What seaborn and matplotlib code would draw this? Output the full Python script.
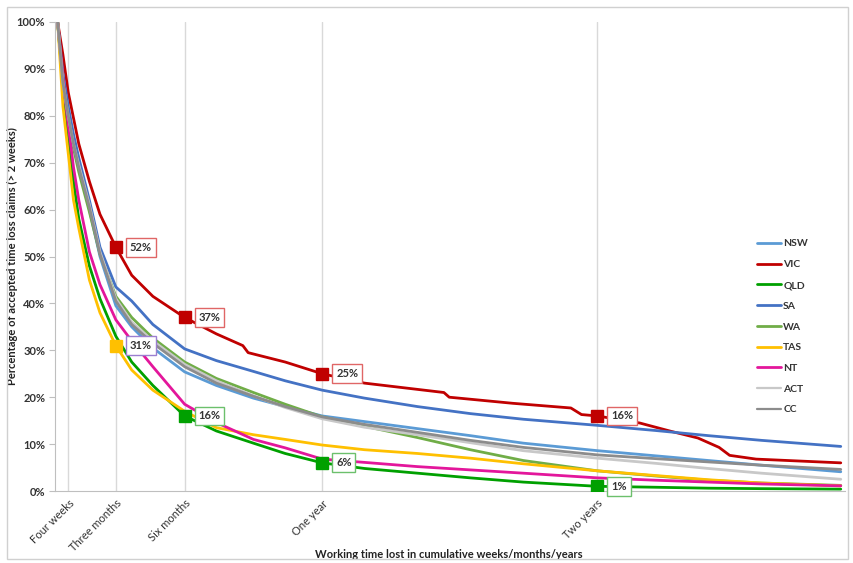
import numpy as np
import pandas as pd
import seaborn as sns
import matplotlib.pyplot as plt
from matplotlib.patches import Rectangle

# weeks since claim (>2 weeks)
weeks = [2, 3, 4, 5, 6, 8, 10, 13, 16, 20, 26, 32, 39, 45, 52, 60, 70, 80, 90, 104, 115, 125, 135, 150]
vic_weeks = [2, 3, 4, 6, 8, 10, 13, 16, 20, 26, 32, 37, 38, 45, 52, 60, 75, 76, 88, 99, 101, 104,
             112, 118, 123, 127, 129, 134, 150]

nsw = [100, 87, 80, 74, 69, 60, 50, 39.5, 35, 30.5, 25.4, 22.5, 19.8, 18, 16, 14.8, 13.3, 11.8, 10.2, 8.6, 7.5, 6.5, 5.5, 4.1]
vic = [100, 93, 85, 74, 66, 59, 52, 46, 41.5, 37, 33.5, 31, 29.5, 27.5, 25, 23, 21, 20, 18.7, 17.7, 16.3, 16,
       14.5, 12.7, 11.3, 9.3, 7.6, 6.8, 6.0]
qld = [100, 86, 76, 66, 58, 48, 41, 33, 27.5, 22.5, 16, 12.8, 10.2, 8.0, 6.0, 4.8, 3.8, 2.8, 1.9, 1.0, 0.8, 0.6, 0.5, 0.4]
sa = [100, 89, 82, 76, 71, 62, 52, 43.5, 40.5, 35.5, 30.3, 27.8, 25.5, 23.5, 21.5, 19.8, 18.0, 16.5, 15.3, 14.0, 12.9, 11.8, 10.8, 9.5]
wa = [100, 87, 79, 73, 68, 59.5, 50.5, 41.5, 37, 32.6, 27.5, 24, 21, 18.5, 15.8, 13.8, 11.4, 8.8, 6.5, 4.3, 3.2, 2.3, 1.7, 1.2]
tas = [100, 82, 72, 62, 56, 45, 38, 31, 25.8, 21.5, 17, 13.5, 12, 11, 9.8, 8.8, 8.0, 7.0, 5.8, 4.3, 3.3, 2.4, 1.7, 1.1]
nt = [100, 88, 78, 69, 62, 51, 44, 36.5, 32, 26.5, 18.5, 14.6, 11, 9.2, 6.8, 6.1, 5.2, 4.5, 3.8, 2.8, 2.3, 1.9, 1.5, 1.1]
act = [100, 87, 80, 74, 69.5, 61, 51, 41, 36, 32, 27, 23.5, 20.3, 17.8, 15.4, 13.6, 12.0, 10.3, 8.6, 7.0, 5.9, 4.8, 3.8, 2.5]
cc = [100, 87, 80, 74, 69, 60.5, 50.5, 40.5, 35.5, 31.5, 26.5, 23, 20.2, 18, 15.8, 14.2, 12.5, 10.8, 9.3, 7.7, 6.9, 6.2, 5.5, 4.6]

states = ['NSW', 'VIC', 'QLD', 'SA', 'WA', 'TAS', 'NT', 'ACT', 'CC']
colors = ['#5B9BD5', '#C00000', '#00A000', '#4472C4', '#70AD47', '#FFC000', '#E3169B', '#C8C8C8', '#8C8C8C']

tick_weeks = [4, 13, 26, 52, 104]
tick_labels = ['Four weeks', 'Three months', 'Six months', 'One year', 'Two years']

# highlighted points: (state, week, box edge colour)
callouts = [('VIC', 13, '#E06666'), ('VIC', 26, '#E06666'), ('VIC', 52, '#E06666'), ('VIC', 104, '#E06666'),
            ('TAS', 13, '#9B7FD0'), ('QLD', 26, '#6CC06C'), ('QLD', 52, '#6CC06C'), ('QLD', 104, '#6CC06C')]

series = {'NSW': nsw, 'VIC': vic, 'QLD': qld, 'SA': sa, 'WA': wa, 'TAS': tas, 'NT': nt, 'ACT': act, 'CC': cc}
frames = []
for st in states:
    x = vic_weeks if st == 'VIC' else weeks
    frames.append(pd.DataFrame({'week': x, 'pct': series[st], 'state': st}))
df = pd.concat(frames, ignore_index=True)

sns.set_style("white")
plt.rcParams['font.family'] = ['Lato', 'DejaVu Sans']

fig = plt.figure(figsize=(8.54, 5.63), dpi=100)
ax = fig.add_axes([55 / 854, 1 - 491 / 563, 790 / 854, 469 / 563])

sns.lineplot(data=df, x='week', y='pct', hue='state', hue_order=states,
             palette=dict(zip(states, colors)), linewidth=2.0, ax=ax)
for line in ax.get_lines():
    if line.get_label() in ('ACT', 'CC'):
        line.set_linewidth(1.6)

for st, wk, edge in callouts:
    x = vic_weeks if st == 'VIC' else weeks
    v = series[st][x.index(wk)]
    col = colors[states.index(st)]
    ax.plot(wk, v, marker='s', markersize=8.5, color=col, zorder=5)
    ax.annotate(f"{v:.0f}%", xy=(wk, v), xytext=(10, 0), textcoords='offset points',
                va='center', ha='left', fontsize=8, fontweight='bold', color='#333333', zorder=6,
                bbox=dict(boxstyle='square,pad=0.35', fc='white', ec=edge, lw=1))

ax.set_xlim(1.5, 150.8)
ax.set_ylim(0, 100)
ax.set_yticks(np.arange(0, 101, 10))
ax.set_yticklabels([f"{t}%" for t in range(0, 101, 10)], fontsize=8, fontweight='bold', color='#333333')
ax.set_xticks(tick_weeks)
ax.set_xticklabels(tick_labels, rotation=45, ha='right', rotation_mode='anchor', fontsize=8, color='#333333')
ax.tick_params(axis='y', length=4, color='#BFBFBF', left=True, pad=3)
ax.tick_params(axis='x', length=0, pad=5)
ax.grid(axis='x', color='#D9D9D9', lw=1)
ax.grid(axis='y', visible=False)
for s in ['top', 'right']:
    ax.spines[s].set_visible(False)
for s in ['left', 'bottom']:
    ax.spines[s].set_color('#BFBFBF')

ax.set_ylabel('Percentage of accepted time loss claims (> 2 weeks)', fontsize=8, fontweight='bold', color='#222222')
ax.yaxis.set_label_coords((18 - 55) / 790, 0.5)
ax.set_xlabel('Working time lost in cumulative weeks/months/years', fontsize=8, fontweight='bold', color='#222222')
ax.xaxis.set_label_coords((449 - 55) / 790, (491 - 549) / 469)

handles, labels = ax.get_legend_handles_labels()
leg = ax.legend(handles, labels, loc='upper left', bbox_to_anchor=(752 / 854, 1 - 234 / 563),
                bbox_transform=fig.transFigure, frameon=False, fontsize=7.5, handlelength=2.3,
                handletextpad=0.2, labelspacing=1.1, borderpad=0)
for t in leg.get_texts():
    t.set_fontweight('bold')
    t.set_color('#333333')

fig.patches.append(Rectangle((7 / 854, 4 / 563), 841 / 854, 552 / 563, transform=fig.transFigure,
                             fill=False, ec='#D0D0D0', lw=1))

fig.savefig('out.png', dpi=100, facecolor='white')
